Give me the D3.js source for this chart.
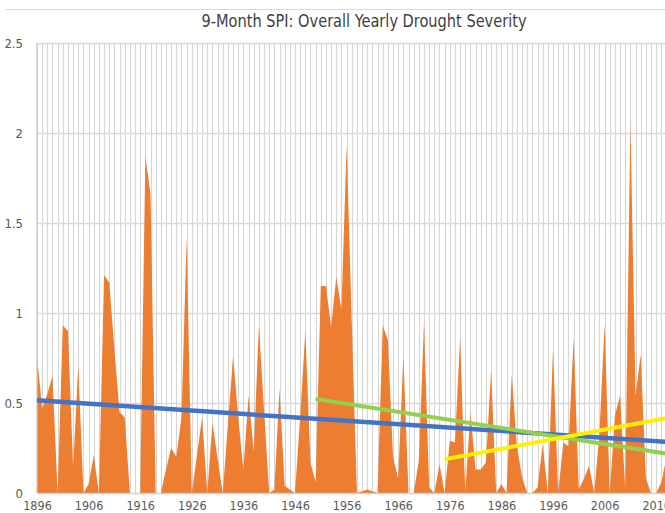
<!DOCTYPE html>
<html>
<head>
<meta charset="utf-8">
<script src="https://cdn.jsdelivr.net/npm/d3@7"></script>
<style>
  html, body { margin: 0; padding: 0; background: #fff; overflow: hidden; }
  svg { display: block; }
</style>
</head>
<body>
<svg id="chart" width="665" height="513"></svg>
<script>
// ---- data ----
const titleText = "9-Month SPI: Overall Yearly Drought Severity";
const years = d3.range(1896, 2019);
const severity = [
  0.76, 0.47, 0.55, 0.65, 0.00, 0.93, 0.90, 0.14, 0.71, 0.00, // 1896-1905
  0.05, 0.21, 0.00, 1.21, 1.17, 0.80, 0.45, 0.42, 0.00, 0.00, // 1906-1915
  0.00, 1.87, 1.66, 0.00, 0.00, 0.13, 0.25, 0.20, 0.42, 1.42, // 1916-1925
  0.00, 0.21, 0.42, 0.00, 0.39, 0.19, 0.00, 0.38, 0.76, 0.42, // 1926-1935
  0.13, 0.54, 0.23, 0.93, 0.46, 0.00, 0.02, 0.58, 0.04, 0.02, // 1936-1945
  0.00, 0.42, 0.90, 0.17, 0.06, 1.15, 1.15, 0.92, 1.20, 1.02, // 1946-1955
  1.93, 0.95, 0.00, 0.01, 0.02, 0.01, 0.00, 0.93, 0.85, 0.20, // 1956-1965
  0.08, 0.76, 0.00, 0.00, 0.18, 0.95, 0.03, 0.00, 0.16, 0.00, // 1966-1975
  0.29, 0.28, 0.86, 0.00, 0.45, 0.13, 0.13, 0.17, 0.68, 0.00, // 1976-1985
  0.05, 0.00, 0.66, 0.26, 0.09, 0.00, 0.00, 0.03, 0.27, 0.00, // 1986-1995
  0.80, 0.00, 0.28, 0.26, 0.86, 0.02, 0.08, 0.15, 0.00, 0.33, // 1996-2005
  0.94, 0.00, 0.43, 0.54, 0.02, 2.07, 0.54, 0.77, 0.08, 0.00, // 2006-2015
  0.00, 0.06, 0.20                                            // 2016-2018
];
// trend lines: [year, value] end points
const trendAll    = [[1896, 0.515], [2020, 0.28]];
const trend1950   = [[1950, 0.522], [2020, 0.21]];
const trend1975   = [[1975, 0.187], [2020, 0.427]];
const yTicks = [0, 0.5, 1, 1.5, 2, 2.5];
const xTickYears = [1896, 1906, 1916, 1926, 1936, 1946, 1956, 1966, 1976, 1986, 1996, 2006, 2016];
const gridYears = d3.range(1896, 2021);

// ---- layout ----
const svg = d3.select("#chart");
const x = d3.scaleLinear().domain([1896, 2020]).range([37, 37 + 124 * 5.16]);
const y = d3.scaleLinear().domain([0, 2.5]).range([493, 43]);
const fontFam = "'Liberation Sans Narrow', 'DejaVu Sans Condensed', 'Arial Narrow', sans-serif";

// chart border (top edge)
svg.append("line").attr("x1", 5).attr("x2", 665).attr("y1", 9.5).attr("y2", 9.5)
  .attr("stroke", "#d9d9d9").attr("stroke-width", 1);

// title
svg.append("text")
  .attr("x", 364).attr("y", 27)
  .attr("text-anchor", "middle")
  .attr("font-family", fontFam)
  .attr("font-size", 18)
  .attr("fill", "#404040")
  .attr("textLength", 325)
  .attr("lengthAdjust", "spacingAndGlyphs")
  .text(titleText);

// gridlines
const grid = svg.append("g");
grid.selectAll("line.v").data(gridYears).join("line")
  .attr("class", "v")
  .attr("x1", d => Math.round(x(d)) + 0.5).attr("x2", d => Math.round(x(d)) + 0.5)
  .attr("y1", y(2.5)).attr("y2", y(0))
  .attr("stroke", "#d4d4d4").attr("stroke-width", 1);
grid.selectAll("line.h").data(yTicks.filter(d => d > 0)).join("line")
  .attr("class", "h")
  .attr("x1", x(1896)).attr("x2", 665)
  .attr("y1", d => Math.round(y(d)) + 0.5).attr("y2", d => Math.round(y(d)) + 0.5)
  .attr("stroke", "#d9d9d9").attr("stroke-width", 1.3);

// area
const series = years.map((yr, i) => ({ yr, v: severity[i] }));
const area = d3.area().x(d => x(d.yr)).y0(y(0)).y1(d => y(d.v));
svg.append("path").datum(series)
  .attr("d", area)
  .attr("fill", "#ED7D31");

// axes lines
svg.append("line").attr("x1", x(1896)).attr("x2", x(1896)).attr("y1", y(2.5)).attr("y2", y(0))
  .attr("stroke", "#c8c8c8").attr("stroke-width", 1.3);
svg.append("line").attr("x1", x(1896)).attr("x2", 665).attr("y1", y(0) + 0.5).attr("y2", y(0) + 0.5)
  .attr("stroke", "#d0d0d0").attr("stroke-width", 1.3);

// trend lines
const line = d3.line().x(d => x(d[0])).y(d => y(d[1]));
svg.append("path").datum(trendAll).attr("d", line)
  .attr("fill", "none").attr("stroke", "#4472C4").attr("stroke-width", 4.5);
svg.append("path").datum(trend1950).attr("d", line)
  .attr("fill", "none").attr("stroke", "#92D050").attr("stroke-width", 4);
svg.append("path").datum(trend1975).attr("d", line)
  .attr("fill", "none").attr("stroke", "#FFF000").attr("stroke-width", 4);

// y axis
const yAxis = svg.append("g")
  .attr("transform", `translate(${x(1896)},0)`)
  .call(d3.axisLeft(y).tickValues(yTicks).tickSize(0).tickPadding(14).tickFormat(d => String(d)));
yAxis.select(".domain").remove();
yAxis.selectAll("text").attr("font-family", fontFam).attr("font-size", 13).attr("fill", "#595959");

// x axis
const xAxis = svg.append("g")
  .attr("transform", `translate(0,${y(0)})`)
  .call(d3.axisBottom(x).tickValues(xTickYears).tickSize(0).tickPadding(8).tickFormat(d3.format("d")));
xAxis.select(".domain").remove();
xAxis.selectAll("text").attr("font-family", fontFam).attr("font-size", 12.5).attr("fill", "#595959");
</script>
</body>
</html>
